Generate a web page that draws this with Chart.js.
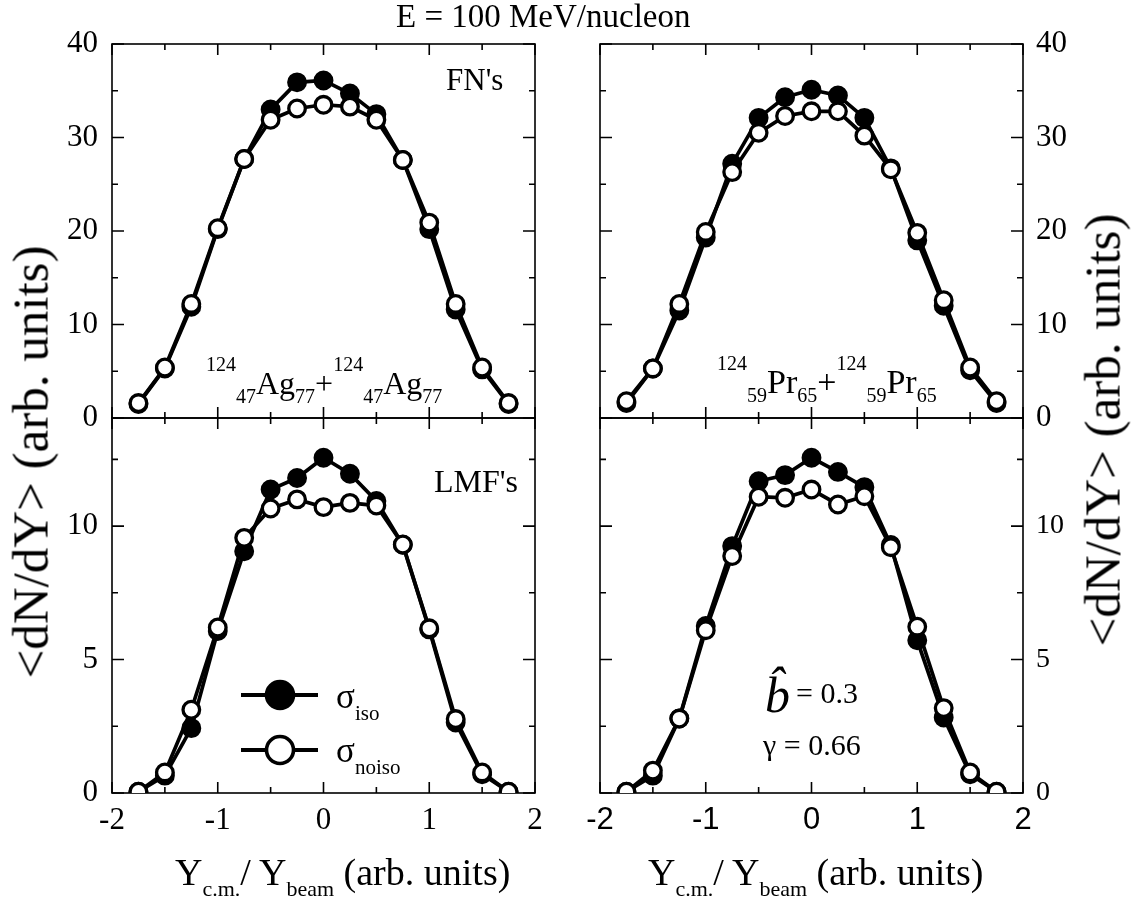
<!DOCTYPE html>
<html>
<head>
<meta charset="utf-8">
<script src="https://cdn.jsdelivr.net/npm/chart.js@4.4.0/dist/chart.umd.min.js"></script>
<style>
  body { margin: 0; background: #fff; }
  #wrap { position: relative; width: 1135px; height: 905px; overflow: hidden; }
  #wrap canvas { position: absolute; left: 0; top: 0; }
  .t { position: absolute; white-space: nowrap; line-height: 1; color: #000;
       font-family: "Liberation Serif", "Times New Roman", serif; }
  .up { position: relative; font-size: 20px; top: -23px; }
  .dn { position: relative; font-size: 20px; top: 9px; }
  .rot { transform-origin: 50% 50%; transform: translate(-50%, -50%) rotate(-90deg); }
</style>
</head>
<body>
<div id="wrap">
  <canvas id="cTL" width="1135" height="905"></canvas>
  <canvas id="cTR" width="1135" height="905"></canvas>
  <canvas id="cBL" width="1135" height="905"></canvas>
  <canvas id="cBR" width="1135" height="905"></canvas>

  <div class="t" style="left:396px;top:0px;font-size:33px;">E = 100 MeV/nucleon</div>

  <div class="t rot" style="left:31px;top:462px;font-size:51px;">&lt;dN/dY&gt; (arb. units)</div>
  <div class="t rot" style="left:1103px;top:430px;font-size:51px;">&lt;dN/dY&gt; (arb. units)</div>

  <div class="t" style="left:175px;top:853px;font-size:38px;">Y<span style="font-size:22px;position:relative;top:11px;">c.m.</span>/ Y<span style="font-size:22px;position:relative;top:11px;">beam</span> (arb. units)</div>
  <div class="t" style="left:648px;top:853px;font-size:38px;">Y<span style="font-size:22px;position:relative;top:11px;">c.m.</span>/ Y<span style="font-size:22px;position:relative;top:11px;">beam</span> (arb. units)</div>

  <div class="t" style="left:446px;top:64px;font-size:31px;">FN's</div>
  <div class="t" style="left:434px;top:465px;font-size:32px;">LMF's</div>

  <div class="t" style="left:206px;top:367px;font-size:32px;"><span class="up">124</span><span class="dn">47</span>Ag<span class="dn">77</span>+<span class="up">124</span><span class="dn">47</span>Ag<span class="dn">77</span></div>
  <div class="t" style="left:717px;top:365px;font-size:34px;"><span class="up">124</span><span class="dn">59</span>Pr<span class="dn">65</span>+<span class="up">124</span><span class="dn">59</span>Pr<span class="dn">65</span></div>

  <div class="t" style="left:336px;top:679px;font-size:35px;">σ<span style="font-size:21px;position:relative;top:12px;">iso</span></div>
  <div class="t" style="left:336px;top:733px;font-size:35px;">σ<span style="font-size:21px;position:relative;top:12px;">noiso</span></div>

  <div class="t" style="left:765px;top:670px;font-size:50px;font-style:italic;">b&#770;</div>
  <div class="t" style="left:796px;top:678px;font-size:30px;">= 0.3</div>
  <div class="t" style="left:763px;top:730px;font-size:30px;">γ = 0.66</div>
</div>

<script>
// rapidity bins, Y_cm / Y_beam
const rapidity = [-1.75, -1.5, -1.25, -1, -0.75, -0.5, -0.25, 0, 0.25, 0.5, 0.75, 1, 1.25, 1.5, 1.75];

// FN's, 124Ag + 124Ag
const fnAgIso   = [1.5, 5.3, 11.9, 20.2, 27.7, 33.0, 35.9, 36.1, 34.7, 32.5, 27.6, 20.2, 11.6, 5.2, 1.5];
const fnAgNoiso = [1.6, 5.4, 12.2, 20.3, 27.7, 31.9, 33.1, 33.5, 33.3, 31.9, 27.6, 20.9, 12.2, 5.4, 1.6];

// FN's, 124Pr + 124Pr
const fnPrIso   = [1.6, 5.3, 11.5, 19.3, 27.2, 32.1, 34.3, 35.1, 34.5, 32.1, 26.7, 19.0, 12.0, 5.1, 1.6];
const fnPrNoiso = [1.8, 5.3, 12.2, 19.9, 26.3, 30.5, 32.3, 32.8, 32.8, 30.2, 26.6, 19.8, 12.6, 5.4, 1.8];

// LMF's, 124Ag + 124Ag
const lmfAgIso   = [0.05, 0.65, 2.43, 6.07, 9.06, 11.37, 11.8, 12.56, 11.96, 10.94, 9.3, 6.13, 2.64, 0.7, 0.05];
const lmfAgNoiso = [0.05, 0.77, 3.12, 6.2, 9.56, 10.66, 11.0, 10.71, 10.87, 10.77, 9.31, 6.17, 2.77, 0.77, 0.05];

// LMF's, 124Pr + 124Pr
const lmfPrIso   = [0.05, 0.65, 2.79, 6.26, 9.25, 11.68, 11.91, 12.56, 12.03, 11.46, 9.29, 5.72, 2.83, 0.7, 0.05];
const lmfPrNoiso = [0.05, 0.84, 2.79, 6.1, 8.88, 11.1, 11.06, 11.37, 10.81, 11.12, 9.21, 6.23, 3.18, 0.77, 0.05];

const xRange = [-2, 2];
const fnRange = [0, 40];
const lmfRange = [0, 14.05];

const W = 1135, H = 905;
const Y_AXIS_W = 60, X_AXIS_H = 60;

// frame + inward ticks on all four sides
const framePlugin = {
    id: "frame",
    beforeDatasetsDraw(chart, args, opts) {
        const { ctx, chartArea: a, scales } = chart;
        const x = scales.x, y = scales.y;
        ctx.save();
        ctx.strokeStyle = "#000";
        ctx.lineWidth = 1.6;
        ctx.beginPath();
        const isMajor = (v, step) => Math.abs(v / step - Math.round(v / step)) < 1e-6;
        for (let v = x.min; v <= x.max + 1e-9; v += opts.xMinor) {
            const px = x.getPixelForValue(v);
            const len = isMajor(v, opts.xMajor) ? 11 : 6;
            ctx.moveTo(px, a.bottom); ctx.lineTo(px, a.bottom - len);
            ctx.moveTo(px, a.top); ctx.lineTo(px, a.top + len);
        }
        for (let v = y.min; v <= y.max + 1e-9; v += opts.yMinor) {
            const py = y.getPixelForValue(v);
            const len = isMajor(v, opts.yMajor) ? 12 : 6;
            ctx.moveTo(a.left, py); ctx.lineTo(a.left + len, py);
            ctx.moveTo(a.right, py); ctx.lineTo(a.right - len, py);
        }
        ctx.stroke();
        ctx.strokeRect(a.left, a.top, a.right - a.left, a.bottom - a.top);
        ctx.restore();
    }
};

// legend samples (filled / open circle on a line)
const legendPlugin = {
    id: "legendSamples",
    afterDraw(chart, args, opts) {
        if (!opts.show) return;
        const ctx = chart.ctx;
        [[695, "#000"], [750, "#fff"]].forEach(([yy, fill]) => {
            ctx.save();
            ctx.lineWidth = 4;
            ctx.strokeStyle = "#000";
            ctx.beginPath();
            ctx.moveTo(241, yy); ctx.lineTo(318, yy);
            ctx.stroke();
            ctx.beginPath();
            ctx.arc(280, yy, 13.5, 0, Math.PI * 2);
            ctx.fillStyle = fill;
            ctx.fill();
            ctx.lineWidth = 3.6;
            ctx.stroke();
            ctx.restore();
        });
    }
};

function series(values, fill) {
    return {
        data: rapidity.map((r, i) => ({ x: r, y: values[i] })),
        borderColor: "#000",
        borderWidth: 3.7,
        pointRadius: 8.3,
        pointBorderWidth: 3.3,
        pointBackgroundColor: fill,
        pointBorderColor: "#000",
        tension: 0,
        order: fill === "#fff" ? 0 : 1,
    };
}

function makePanel(id, box, iso, noiso, yRange, yMajor, yMinor, side, showX, xFamily, ySize, showLegend) {
    const padding = side === "left"
        ? { left: box.l - Y_AXIS_W, right: W - box.r, top: box.t, bottom: H - box.b - X_AXIS_H }
        : { left: box.l, right: W - box.r - Y_AXIS_W, top: box.t, bottom: H - box.b - X_AXIS_H };
    return new Chart(document.getElementById(id), {
        type: "line",
        data: { datasets: [series(iso, "#000"), series(noiso, "#fff")] },
        options: {
            responsive: false,
            animation: false,
            devicePixelRatio: 1,
            layout: { padding },
            plugins: {
                legend: { display: false },
                tooltip: { enabled: false },
                frame: { xMajor: 1, xMinor: 0.5, yMajor, yMinor },
                legendSamples: { show: showLegend },
            },
            scales: {
                x: {
                    type: "linear",
                    min: xRange[0], max: xRange[1],
                    afterFit: (s) => { s.height = X_AXIS_H; },
                    grid: { display: false, drawTicks: false },
                    border: { display: false },
                    ticks: {
                        display: showX, stepSize: 1, padding: 9, color: "#000",
                        font: { family: xFamily, size: 31 },
                        callback: (v) => String(v),
                    },
                },
                y: {
                    type: "linear",
                    position: side,
                    min: yRange[0], max: yRange[1],
                    afterFit: (s) => { s.width = Y_AXIS_W; },
                    grid: { display: false, drawTicks: false },
                    border: { display: false },
                    ticks: {
                        stepSize: yMajor, includeBounds: false,
                        padding: side === "left" ? 14 : 13, color: "#000",
                        font: { family: "Liberation Serif", size: ySize },
                        callback: (v) => String(v),
                    },
                },
            },
        },
        plugins: [framePlugin, legendPlugin],
    });
}

const serif = "Liberation Serif", sans = "Liberation Sans";
makePanel("cTL", { l: 112, r: 535, t: 44, b: 418 }, fnAgIso, fnAgNoiso, fnRange, 10, 5, "left", false, serif, 31, false);
makePanel("cTR", { l: 600, r: 1023, t: 44, b: 418 }, fnPrIso, fnPrNoiso, fnRange, 10, 5, "right", false, sans, 31, false);
makePanel("cBL", { l: 112, r: 535, t: 418, b: 793 }, lmfAgIso, lmfAgNoiso, lmfRange, 5, 2.5, "left", true, serif, 31, true);
makePanel("cBR", { l: 600, r: 1023, t: 418, b: 793 }, lmfPrIso, lmfPrNoiso, lmfRange, 5, 2.5, "right", true, sans, 28, false);
</script>
</body>
</html>
